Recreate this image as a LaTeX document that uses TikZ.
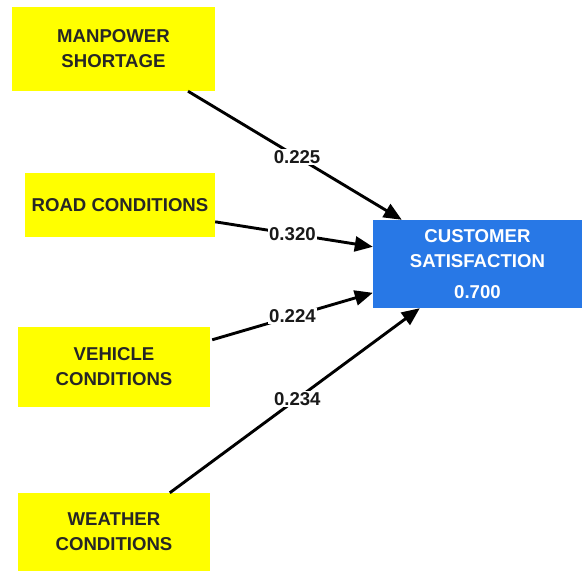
\documentclass[tikz,border=0pt]{standalone}
\usepackage{fontspec}
\setmainfont{Liberation Sans}
\usetikzlibrary{arrows.meta,calc}
\definecolor{boxyellow}{RGB}{255,255,0}
\definecolor{boxblue}{RGB}{40,120,230}
\begin{document}
\begin{tikzpicture}[x=1pt,y=-1pt,
  construct/.style={rectangle,fill=boxyellow,inner sep=0pt,align=center,
    font=\fontsize{18.6}{25}\selectfont\bfseries,text=black!85},
  target/.style={rectangle,fill=boxblue,inner sep=0pt,align=center,
    font=\fontsize{18.6}{25}\selectfont\bfseries,text=white},
  path coef/.style={line width=2.9pt,-{Triangle[length=18pt,width=15pt]}},
  coef/.style={fill=white,inner sep=1.5pt,font=\fontsize{18.6}{20}\selectfont\bfseries,text=black!90}]
  \useasboundingbox (0,0) rectangle (582,573);

  % exogenous constructs
  \node[construct,minimum width=203,minimum height=84] (man) at (113.5,49)
    {MANPOWER\\SHORTAGE};
  \node[construct,minimum width=190,minimum height=64] (road) at (120,205)
    {ROAD CONDITIONS};
  \node[construct,minimum width=192,minimum height=80] (veh) at (114,367)
    {VEHICLE\\CONDITIONS};
  \node[construct,minimum width=192,minimum height=78] (wea) at (114,532)
    {WEATHER\\CONDITIONS};

  % endogenous construct with its R-squared
  \node[target,minimum width=209,minimum height=88] (cust) at (477.5,264)
    {CUSTOMER\\SATISFACTION\\[6pt]0.700};

  % path coefficients
  \draw[path coef] ($(man.south)+(74.5,0)$) -- node[coef,pos=0.51] {0.225}
    ($(cust.north west)+(29,0)$);
  \draw[path coef] ($(road.north east)+(0,49)$) -- node[coef,pos=0.49] {0.320}
    ($(cust.north west)+(0,27)$);
  \draw[path coef] ($(veh.north east)+(2,13)$) -- node[coef,pos=0.5] {0.224}
    ($(cust.north west)+(0,73)$);
  \draw[path coef] ($(wea.north west)+(152,0)$) -- node[coef,pos=0.51] {0.234}
    ($(cust.south west)+(47,0)$);
\end{tikzpicture}
\end{document}
